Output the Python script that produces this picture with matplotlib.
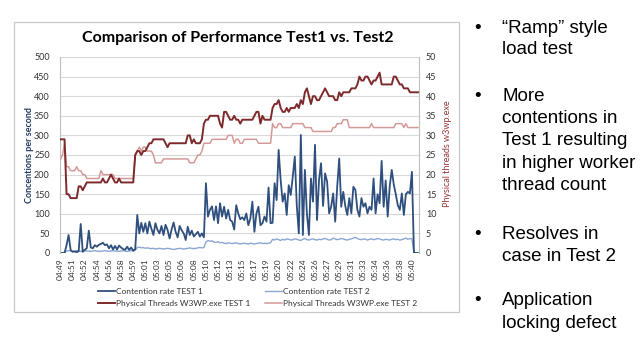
import matplotlib.pyplot as plt
from matplotlib.lines import Line2D
from matplotlib.patches import Rectangle

# category labels shown on the x axis (every 6th sample)
time_labels = ['04:49', '04:51', '04:52', '04:54', '04:56', '04:58', '04:59', '05:01',
               '05:03', '05:05', '05:06', '05:08', '05:10', '05:12', '05:13', '05:15',
               '05:17', '05:19', '05:20', '05:22', '05:24', '05:26', '05:27', '05:29',
               '05:31', '05:33', '05:34', '05:36', '05:38', '05:40']

# contention rate (left axis)
contention_test1 = [0, 0, 0, 20, 46, 8, 3, 4, 2, 5, 74, 3, 8, 12, 57, 14, 12, 20, 16, 21,
                    23, 26, 20, 22, 12, 20, 9, 18, 9, 19, 14, 10, 8, 16, 8, 14, 6, 10,
                    97, 50, 77, 54, 76, 50, 80, 62, 46, 76, 59, 50, 69, 46, 72, 59, 37, 60,
                    78, 54, 40, 69, 58, 50, 33, 67, 46, 57, 42, 48, 54, 42, 50, 40,
                    178, 93, 110, 119, 84, 119, 76, 127, 93, 118, 88, 110, 84, 80, 60, 122,
                    101, 86, 91, 84, 101, 71, 88, 131, 54, 101, 118, 71, 76, 93, 80, 167,
                    76, 77, 178, 135, 263, 186, 131, 152, 97, 173, 148, 195, 246, 120, 50,
                    301, 46, 212, 100, 46, 190, 131, 276, 84, 186, 229, 120, 203, 182, 101,
                    118, 152, 80, 169, 241, 118, 156, 120, 97, 140, 101, 169, 161, 110, 93,
                    140, 118, 127, 101, 118, 110, 190, 101, 150, 127, 235, 118, 185, 93, 170,
                    212, 175, 150, 122, 110, 152, 97, 150, 156, 152, 207, 0, 0, 0]
contention_test2 = [0, 0, 2,
                    5, 6, 5, 4, 5, 6, 5, 4, 5, 6, 5, 5, 4, 5, 6, 5, 4, 5, 5, 6,
                    5, 4, 5, 6, 5, 5, 4, 5, 6, 5, 4, 5, 6, 5, 7,
                    14, 15, 13, 14, 12, 13, 12, 11, 12, 10, 11, 12, 11, 10, 11, 12, 11,
                    10, 9, 10, 11, 12, 11, 10, 11, 12, 13, 12, 11, 12, 13, 14, 13, 14,
                    28, 32, 30, 31, 28, 27, 29, 26, 27, 25, 24, 26, 25, 24, 25, 26, 24,
                    23, 24, 25, 24, 23, 25, 24, 23, 24, 25, 26, 24, 25, 24, 25, 26,
                    35, 33, 36, 34, 32, 35, 33, 36, 35, 33, 34, 36, 35, 33, 32, 35, 37, 34,
                    33, 35, 36, 34, 33, 35, 34, 36, 37, 35, 33, 34, 38, 36, 34, 35, 37, 36,
                    34, 33, 35, 36, 38, 40, 37, 35, 34, 36, 35, 33, 35, 36, 34, 35, 37, 36,
                    34, 33, 35, 34, 33, 35, 36, 34, 35, 33, 34, 36, 38, 35, 37, 36,
                    0, 0, 0]

# physical threads of w3wp.exe (right axis)
threads_test1 = [29, 29, 29, 15, 15, 14, 14, 14, 14, 17, 17, 16, 17, 18, 18, 18, 18, 18,
                 18, 18, 18, 19, 18, 18, 19, 20, 19, 18, 18, 19, 18, 18, 18, 18, 18, 18,
                 18, 25, 26, 26, 25, 26, 26, 27, 28, 28, 29, 29, 29, 29, 29, 29, 28, 27,
                 28, 28, 28, 28, 28, 28, 28, 28, 28, 30, 30, 28, 29, 28, 28, 28, 29, 33,
                 34, 34, 35, 35, 35, 35, 35, 33, 32, 36, 36, 35, 34, 34, 35, 34, 34, 33,
                 34, 34, 34, 34, 34, 34, 35, 36, 36, 33, 35, 34, 34, 34, 34, 37, 38, 38,
                 39, 37, 36, 36, 37, 36, 37, 37, 37, 38, 37, 39, 38, 41, 42, 40, 38, 40,
                 40, 39, 39, 40, 41, 42, 41, 40, 40, 40, 39, 39, 41, 40, 41, 41, 41, 41,
                 42, 42, 42, 43, 45, 44, 44, 45, 45, 44, 43, 44, 44, 45, 46, 43, 43, 43,
                 43, 43, 43, 45, 45, 44, 43, 43, 42, 42, 42, 41, 41, 41, 41, 41]
threads_test2 = [24, 25, 28, 22, 22, 21, 21, 21, 22, 21, 21, 20, 20, 19, 19, 19, 19, 19,
                 19, 19, 21, 20, 20, 20, 20, 20, 20, 19, 19, 19, 19, 19, 19, 19, 19, 19,
                 19, 25, 26, 27, 26, 27, 27, 26, 26, 26, 25, 23, 23, 23, 23, 24, 24, 24,
                 24, 24, 24, 24, 24, 24, 24, 24, 24, 24, 23, 23, 23, 24, 25, 25, 26, 28,
                 28, 28, 28, 29, 29, 29, 29, 29, 29, 29, 29, 30, 30, 30, 28, 29, 29, 28,
                 28, 29, 29, 29, 29, 29, 29, 29, 28, 28, 28, 28, 28, 28, 28, 33, 32, 32,
                 33, 33, 32, 32, 32, 32, 32, 33, 33, 33, 33, 33, 33, 32, 32, 32, 32, 31,
                 31, 31, 31, 31, 31, 31, 31, 31, 31, 32, 32, 33, 33, 33, 34, 34, 34, 32,
                 32, 32, 32, 32, 32, 32, 32, 32, 32, 32, 33, 32, 32, 32, 32, 32, 32, 32,
                 32, 32, 32, 32, 33, 33, 33, 33, 32, 33, 32, 32, 32, 32, 32, 32]

bullets = [
    ['\u201cRamp\u201d style', 'load test'],
    ['More', 'contentions in', 'Test 1 resulting', 'in higher worker', 'thread count'],
    ['Resolves in', 'case in Test 2'],
    ['Application', 'locking defect'],
]

W, H = 640, 344
fig = plt.figure(figsize=(W / 100, H / 100), dpi=100)
plt.rcParams['font.family'] = ['Lato', 'DejaVu Sans']

# chart frame
fig.patches.append(Rectangle((14 / W, 1 - 312 / H), 445 / W, 290 / H, transform=fig.transFigure,
                             fill=False, edgecolor='#c8c8c8', lw=0.9))

ax = fig.add_axes([59.5 / W, 1 - 253 / H, 359.5 / W, 196 / H])
ax2 = ax.twinx()

x = list(range(len(contention_test1)))
c1, c2 = '#2f4f7f', '#8aa6d2'
r1, r2 = '#7e2a2c', '#d49a98'

ax.plot(x, contention_test2, color=c2, lw=1.0)
ax.plot(x, contention_test1, color=c1, lw=1.3)
ax2.plot(x, threads_test2, color=r2, lw=1.1)
ax2.plot(x, threads_test1, color=r1, lw=1.4)

ax.set_xlim(-0.5, len(x) - 0.5)
ax.set_ylim(0, 500)
ax2.set_ylim(0, 50)
ax.set_yticks(range(0, 501, 50))
ax2.set_yticks(range(0, 51, 5))
ax.set_xticks(range(0, 6 * len(time_labels), 6))
ax.set_xticklabels(time_labels, rotation=90)
ax.grid(axis='y', color='#d9d9d9', lw=0.8)
ax.set_axisbelow(True)

for a in (ax, ax2):
    for s in a.spines.values():
        s.set_visible(False)
ax.spines['left'].set_visible(True)
ax.spines['left'].set_color('#bfbfbf')
ax2.spines['right'].set_visible(True)
ax2.spines['right'].set_color('#bfbfbf')
ax.tick_params(axis='y', length=0, pad=7, labelsize=6.5, labelcolor='#333333')
ax2.tick_params(axis='y', length=0, pad=5, labelsize=6.5, labelcolor='#333333')
ax.tick_params(axis='x', length=0, pad=4, labelsize=6, labelcolor='#333333')

fig.text(30 / W, 1 - 155 / H, 'Concentions per second', rotation=90, ha='center', va='center',
         fontsize=6.5, fontweight='bold', color='#1f3864')
fig.text(447 / W, 1 - 154 / H, 'Physical threads w3wp.exe', rotation=90, ha='center', va='center',
         fontsize=6.5, color='#953735')
fig.text(238 / W, 1 - 38 / H, 'Comparison of Performance Test1 vs. Test2', ha='center', va='center',
         fontsize=11.5, fontweight='bold', color='black')

handles = [Line2D([], [], color=c1, lw=1.3), Line2D([], [], color=r1, lw=1.4),
           Line2D([], [], color=c2, lw=1.0), Line2D([], [], color=r2, lw=1.1)]
names = ['Contention rate TEST 1', 'Physical Threads W3WP.exe TEST 1',
         'Contention rate TEST 2', 'Physical Threads W3WP.exe TEST 2']
leg = fig.legend(handles, names, ncol=2, loc='upper left', bbox_to_anchor=(94 / W, 1 - 284 / H),
                 frameon=False, fontsize=6, handlelength=2.0, handletextpad=0.2,
                 columnspacing=1.7, labelspacing=0.55, borderpad=0)
for t in leg.get_texts():
    t.set_color('#333333')

# bullet text on the right
baselines = [[32.7, 54.3], [101, 123.3, 145.3, 167.7, 190.3], [239.3, 261], [305.3, 327.7]]
for lines, ys in zip(bullets, baselines):
    fig.text(478 / W, 1 - ys[0] / H, '\u2022', ha='center', va='baseline', fontsize=13.5,
             family='Liberation Sans', color='black')
    for line, y in zip(lines, ys):
        fig.text(502 / W, 1 - y / H, line, ha='left', va='baseline', fontsize=13.5,
                 family='Liberation Sans', color='black')

fig.savefig('out.png', dpi=100)
